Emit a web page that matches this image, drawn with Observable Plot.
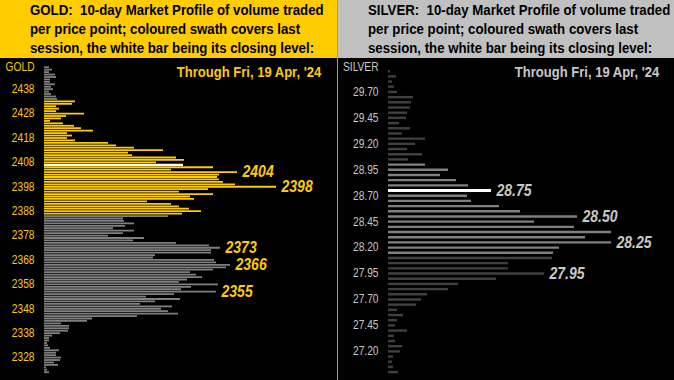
<!DOCTYPE html>
<html><head><meta charset="utf-8">
<script src="https://cdn.jsdelivr.net/npm/d3@7"></script>
<script src="https://cdn.jsdelivr.net/npm/@observablehq/plot@0.6"></script>
<style>
html,body{margin:0;padding:0;background:#000;width:674px;height:380px;overflow:hidden;}
.panel{position:absolute;top:0;height:380px;background:#000;overflow:hidden;}
.hdr{position:absolute;left:0;top:0;right:0;height:58px;}
.hdr .txt{position:absolute;left:30px;top:1px;font:bold 14px "Liberation Sans",Arial,sans-serif;line-height:19px;color:#000;white-space:pre;transform:scaleX(0.946);transform-origin:0 0;}
.thru{position:absolute;top:64px;font:bold 14px "Liberation Sans",Arial,sans-serif;line-height:16px;white-space:pre;transform:scaleX(0.93);transform-origin:100% 50%;}
.chart{position:absolute;left:0;top:58px;}
.sep{position:absolute;left:337px;top:0;width:1px;height:380px;background:#9a9a9a;}
</style></head>
<body>
<div id="gold" class="panel" style="left:0;width:337px;">
  <div class="hdr" style="background:#ffcc00;"><div class="txt" id="goldHdr"></div></div>
  <div class="chart" id="goldChart"></div>
  <div class="thru" id="goldThru" style="right:16px;color:#ffcc00;"></div>
</div>
<div class="sep"></div>
<div id="silver" class="panel" style="left:338px;width:336px;">
  <div class="hdr" style="background:#c0c0c0;"><div class="txt" id="silverHdr"></div></div>
  <div class="chart" id="silverChart"></div>
  <div class="thru" id="silverThru" style="right:15px;color:#c8c8c8;"></div>
</div>
<script>
// ---------- GOLD ----------
const goldTitle = "GOLD:  10-day Market Profile of volume traded\nper price point; coloured swath covers last\nsession, the white bar being its closing level:";
const goldDate = "Through Fri, 19 Apr, '24";
const goldHigh = 2447;      // top price level of the profile
const goldStep = 1;         // $ per price point
// relative volume traded at each price point, from 2447 down to 2322
const goldVolume = [
  5, 8, 5, 11, 12, 6, 6, 11, 7, 9, 5, 7, 12, 13,
  31, 28, 12, 15, 12, 40, 22, 17, 6, 19, 30, 37, 49, 23, 28, 23, 31, 64, 72, 90, 119, 84, 88, 132, 140, 112,
  139,
  169, 127, 193, 175, 173, 175, 179, 191, 232, 164, 135, 169, 146, 150, 103, 127, 135, 145, 157, 138,
  124, 79, 80, 90, 81, 69, 90, 79, 64, 100, 89, 132, 165, 176, 167, 167, 111, 109, 170, 172, 186, 182,
  169, 146, 152, 158, 143, 135, 174, 147, 137, 172, 130, 102, 136, 111, 96, 128, 117, 124, 134, 93,
  48, 43, 17, 25, 25, 24, 16, 8, 5, 5, 3, 4, 6, 15, 12, 12, 17, 16, 10, 14, 2, 3, 5
];
const goldSwath = [2387, 2433];
const goldClose = 2407;
const goldTicks = [2328, 2338, 2348, 2358, 2368, 2378, 2388, 2398, 2408, 2418, 2428, 2438];
const goldLabels = [2404, 2398, 2373, 2366, 2355];

// ---------- SILVER ----------
const silverTitle = "SILVER:  10-day Market Profile of volume traded\nper price point; coloured swath covers last\nsession, the white bar being its closing level:";
const silverDate = "Through Fri, 19 Apr, '24";
const silverHigh = 29.90;
const silverStep = 0.05;
// relative volume traded at each price point, from 29.90 down to 27.00
const silverVolume = [
  2, 8, 4, 6, 9, 25, 23, 22, 19, 18, 11, 22, 14, 37, 27, 19, 34, 20, 37,
  60, 52, 68, 80, 103, 79, 83, 111, 132, 189, 146, 186, 223, 197, 223, 171, 165, 164, 120, 120,
  156, 108, 70, 60, 39, 33, 28, 9, 15, 9, 7, 19, 6, 7, 14, 12, 5, 4, 5, 10
];
const silverSwath = [28.15, 29.00];
const silverClose = 28.75;
const silverTicks = [27.20, 27.45, 27.70, 27.95, 28.20, 28.45, 28.70, 28.95, 29.20, 29.45, 29.70];
const silverLabels = [28.75, 28.50, 28.25, 27.95];

const sans = "'Liberation Sans', Arial, sans-serif";

// narrow the chart's text horizontally (the reference uses a condensed face)
function squeeze(svg, s) {
  svg.querySelectorAll("text").forEach(t => {
    const tr = t.getAttribute("transform") || "";
    const xa = t.getAttribute("x");
    const x = xa && !/em$/.test(xa) ? +xa : 0;
    if (x) t.setAttribute("x", 0);
    t.setAttribute("transform", `${tr} translate(${x},0) scale(${s},1)`);
  });
  return svg;
}

function profile(cfg) {
  const rows = cfg.volume.map((v, i) => ({price: +(cfg.high - i * cfg.step).toFixed(2), vol: v}));
  const eps = cfg.step / 10;
  const isClose = d => Math.abs(d.price - cfg.close) < eps;
  const inSwath = d => d.price >= cfg.swath[0] - eps && d.price <= cfg.swath[1] + eps;
  const other = rows.filter(d => !inSwath(d));
  const swath = rows.filter(d => inSwath(d) && !isClose(d));
  const close = rows.filter(isClose);
  const labelled = cfg.labels.map(p => rows.find(d => Math.abs(d.price - p) < eps));
  const svg = Plot.plot({
    width: cfg.width, height: 322,
    marginLeft: cfg.left, marginTop: 0, marginRight: 0, marginBottom: 0,
    style: {background: "#000", color: cfg.axisColor, fontFamily: sans, fontSize: "12px", overflow: "visible"},
    x: {domain: [0, 250], range: [cfg.left, cfg.left + 250], axis: null},
    y: {domain: cfg.yDomain, range: cfg.yRange},
    marks: [
      Plot.axisY({ticks: cfg.ticks, tickSize: 0, tickPadding: 10, tickFormat: cfg.fmt, label: null}),
      Plot.text([cfg.name], {text: d => d, frameAnchor: "top-left", dx: -10, dy: 8.7, textAnchor: "end", lineAnchor: "middle", fill: cfg.axisColor}),
      Plot.ruleY(other, {y: "price", x1: 0, x2: "vol", stroke: cfg.otherColor, strokeWidth: cfg.sw}),
      Plot.ruleY(swath, {y: "price", x1: 0, x2: "vol", stroke: cfg.swathColor, strokeWidth: cfg.sw}),
      Plot.ruleY(close, {y: "price", x1: 0, x2: "vol", stroke: "#ffffff", strokeWidth: cfg.sw + 0.4}),
      Plot.text(labelled, {x: "vol", y: "price", text: d => cfg.fmt(d.price), dx: 5, textAnchor: "start", lineAnchor: "middle",
        fill: cfg.labelColor, fontWeight: "bold", fontStyle: "italic", fontSize: 16.5, fontFamily: sans})
    ]
  });
  return squeeze(svg, 0.85);
}

document.getElementById("goldHdr").textContent = goldTitle;
document.getElementById("silverHdr").textContent = silverTitle;
document.getElementById("goldThru").textContent = goldDate;
document.getElementById("silverThru").textContent = silverDate;

document.getElementById("goldChart").append(profile({
  name: "GOLD", width: 337, left: 44, volume: goldVolume, high: goldHigh, step: goldStep,
  swath: goldSwath, close: goldClose, ticks: goldTicks, labels: goldLabels, fmt: d => String(d),
  yDomain: [2322, 2447], yRange: [313.7, 8.7], sw: 1.8,
  axisColor: "#ffcc00", otherColor: "#808080", swathColor: "#ffcc00", labelColor: "#ffcc00"
}));
document.getElementById("silverChart").append(profile({
  name: "SILVER", width: 336, left: 50, volume: silverVolume, high: silverHigh, step: silverStep,
  swath: silverSwath, close: silverClose, ticks: silverTicks, labels: silverLabels, fmt: d => d.toFixed(2),
  yDomain: [27.00, 29.90], yRange: [313.6, 12.7], sw: 2.4,
  axisColor: "#c8c8c8", otherColor: "#404040", swathColor: "#808080", labelColor: "#c8c8c8"
}));
</script>
</body></html>
